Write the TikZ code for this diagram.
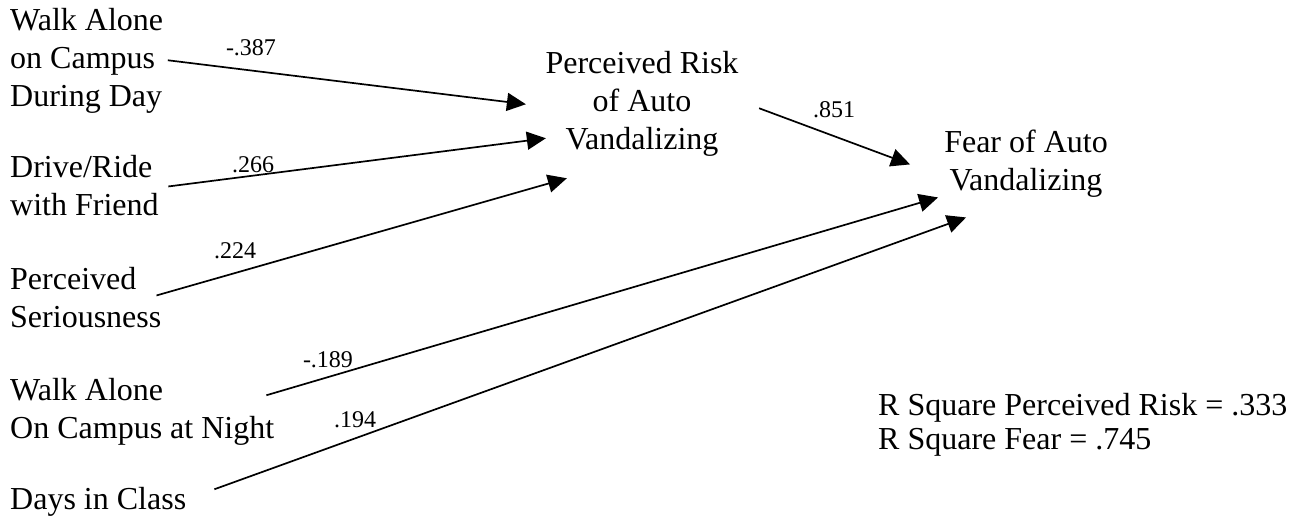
\documentclass[tikz,border=0pt]{standalone}
\usepackage{fontspec}
\setmainfont{Liberation Serif}
\usepackage{tikz}
\usetikzlibrary{arrows.meta, positioning}

\begin{document}
\begin{tikzpicture}[
    x=1pt, y=-1pt,
    var/.style={inner sep=0pt, font=\fontsize{32}{38}\selectfont},
    coef/.style={inner sep=0pt, anchor=base, font=\fontsize{24}{28}\selectfont},
    arr/.style={-{Triangle[length=19pt, width=18pt]}, line width=1.7pt},
]
\useasboundingbox (0,0) rectangle (1301,517);
% predictors
\node[var, align=left, anchor=north west] (wday) at (10,8)
    {Walk Alone\\on Campus\\During Day};
\node[var, align=left, anchor=north west] (ride) at (10,155)
    {Drive/Ride\\with Friend};
\node[var, align=left, anchor=north west] (serious) at (10,267)
    {Perceived\\Seriousness};
\node[var, align=left, anchor=north west] (wnight) at (10,378)
    {Walk Alone\\On Campus at Night};
\node[var, align=left, anchor=north west] (days) at (10,487)
    {Days in Class};
% mediator and outcome
\node[var, align=center, anchor=north] (risk) at (642,51)
    {Perceived Risk\\of Auto\\Vandalizing};
\node[var, align=center, anchor=north] (fear) at (1026,130)
    {Fear of Auto\\Vandalizing};
\node[var, align=left, anchor=north west,
      font=\fontsize{32}{34}\selectfont] (rsq) at (878,393)
    {R Square Perceived Risk = .333\\R Square Fear = .745};
% paths
\draw[arr] ([shift={(4.5,-0.5)}]wday.east)   -- ([shift={(-19.5,0.5)}]risk.west);
\draw[arr] ([shift={(9.5,1)}]ride.east)      -- ([shift={(0.5,34.5)}]risk.west);
\draw[arr] ([shift={(-5,-2)}]serious.east)   -- ([shift={(21.5,74.5)}]risk.west);
\draw[arr] ([shift={(20.5,4.5)}]risk.east)   -- ([shift={(-34,0.5)}]fear.west);
\draw[arr] ([shift={(-8,-16.5)}]wnight.east) -- ([shift={(-6,33.5)}]fear.west);
\draw[arr] ([shift={(28,-12.5)}]days.east)   -- ([shift={(22,53.5)}]fear.west);
% coefficients
\node[coef] (c1) at (251,55)  {-.387};
\node[coef] (c2) at (253,172) {.266};
\node[coef] (c3) at (235,258) {.224};
\node[coef] (c4) at (834,117) {.851};
\node[coef] (c5) at (328,367) {-.189};
\node[coef] (c6) at (355,427) {.194};
\end{tikzpicture}
\end{document}
